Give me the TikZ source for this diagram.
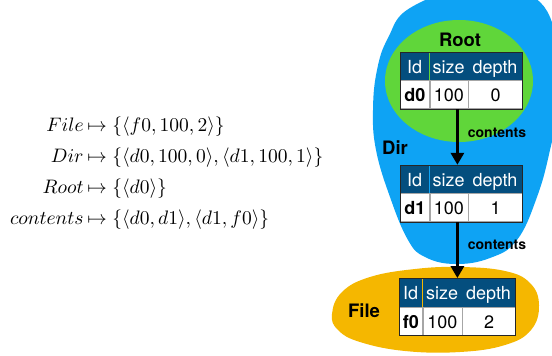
\documentclass[tikz,border=0pt]{standalone}
\usepackage{fontspec}
\newfontfamily\hv{TeX Gyre Heros}
\usetikzlibrary{arrows.meta,fit}
\definecolor{blobblue}{RGB}{14,163,244}
\definecolor{blobgreen}{RGB}{96,214,58}
\definecolor{bloborange}{RGB}{245,183,0}
\definecolor{hdrblue}{RGB}{4,78,126}
\tikzset{
  hcell/.style={anchor=north west, inner sep=0pt, minimum height=28pt, fill=hdrblue, text=white,
    font=\hv\fontsize{18}{21}\selectfont, text height=16pt, text depth=2pt},
  bcell/.style={anchor=north west, inner sep=0pt, minimum height=28pt, fill=white, draw=black!35, line width=0.6pt,
    text=black, font=\hv\fontsize{18}{21}\selectfont, text height=16pt, text depth=2pt},
  tabborder/.style={draw=black!85, line width=1pt},
  arr/.style={line width=3pt, -{Triangle[width=13pt,length=12pt]}},
  setlbl/.style={font=\hv\bfseries\fontsize{18.5}{22}\selectfont, inner sep=0pt},
  rellbl/.style={font=\hv\bfseries\fontsize{14}{17}\selectfont, inner sep=0pt},
  lhs/.style={anchor=base east, inner sep=0pt, scale=1.95, transform shape},
  rhs/.style={anchor=base west, inner sep=0pt, scale=1.95, transform shape},
}
\newcommand\mytab[9]{%
  \node[hcell, minimum width=#4pt] (#1h1) at (#2,#3) {Id};
  \node[hcell, minimum width=#5pt] (#1h2) at (#1h1.north east) {size};
  \node[hcell, minimum width=#6pt] (#1h3) at (#1h2.north east) {depth};
  \node[bcell, minimum width=#4pt, font=\hv\bfseries\fontsize{18}{21}\selectfont] (#1b1) at (#1h1.south west) {#7};
  \node[bcell, minimum width=#5pt] (#1b2) at (#1b1.north east) {#8};
  \node[bcell, minimum width=#6pt] (#1b3) at (#1b2.north east) {#9};
  \draw[tabborder] (#1h1.north west) rectangle (#1b3.south east);
  \node[fit=(#1h1)(#1b3), inner sep=0pt] (#1) {};
}
\begin{document}
\begin{tikzpicture}[x=1pt, y=-1pt]
\useasboundingbox (0,0) rectangle (552,356);
\begin{scope}
  \clip (0,0) rectangle (552,356);
  % Dir blob
  \fill[blobblue] plot[smooth cycle, tension=0.7] coordinates {
    (470,-12) (530,-5) (556,35) (560,95) (550,150) (537,197) (517,240) (490,258)
    (455,264) (425,257) (408,240) (390,197) (376,150) (373,110) (377,70) (388,38) (410,8)};
  % Root
  \fill[blobgreen] (459,81) ellipse [x radius=74, y radius=61];
  % File blob
  \fill[bloborange] plot[smooth cycle, tension=0.7] coordinates {
    (332,314) (342,292) (370,277) (415,269) (460,267) (505,271) (530,283) (539,305)
    (531,330) (505,345) (460,352) (405,351) (360,342) (338,330)};
\end{scope}

\node[setlbl] (rootlbl) at (460,40) {Root};
\node[setlbl] (dirlbl) at (395,148) {Dir};
\node[setlbl] (filelbl) at (364,311) {File};

\mytab{t1}{400}{52}{29}{38}{54}{d0}{100}{0}
\mytab{t2}{400}{165}{29}{38}{54}{d1}{100}{1}
\mytab{t3}{399}{278.3}{23}{39}{53}{f0}{100}{2}

\draw[arr] (t3.north |- t1.south) -- (t3.north |- t2.north);
\draw[arr] (t3.north |- t2.south) -- (t3.north);
\node[rellbl] (c1) at (497,133) {contents};
\node[rellbl] (c2) at (497,245) {contents};

\node[lhs] (l1) at (84,131) {$File$};
\node[rhs] (r1) at (87,131) {$\mapsto\{\langle f0, 100, 2\rangle\}$};
\node[lhs] (l2) at (84,162) {$Dir$};
\node[rhs] (r2) at (87,162) {$\mapsto\{\langle d0, 100, 0\rangle, \langle d1, 100, 1\rangle\}$};
\node[lhs] (l3) at (84,193) {$Root$};
\node[rhs] (r3) at (87,193) {$\mapsto\{\langle d0\rangle\}$};
\node[lhs] (l4) at (84,224) {$contents$};
\node[rhs] (r4) at (87,224) {$\mapsto\{\langle d0, d1\rangle, \langle d1, f0\rangle\}$};
\end{tikzpicture}
\end{document}
